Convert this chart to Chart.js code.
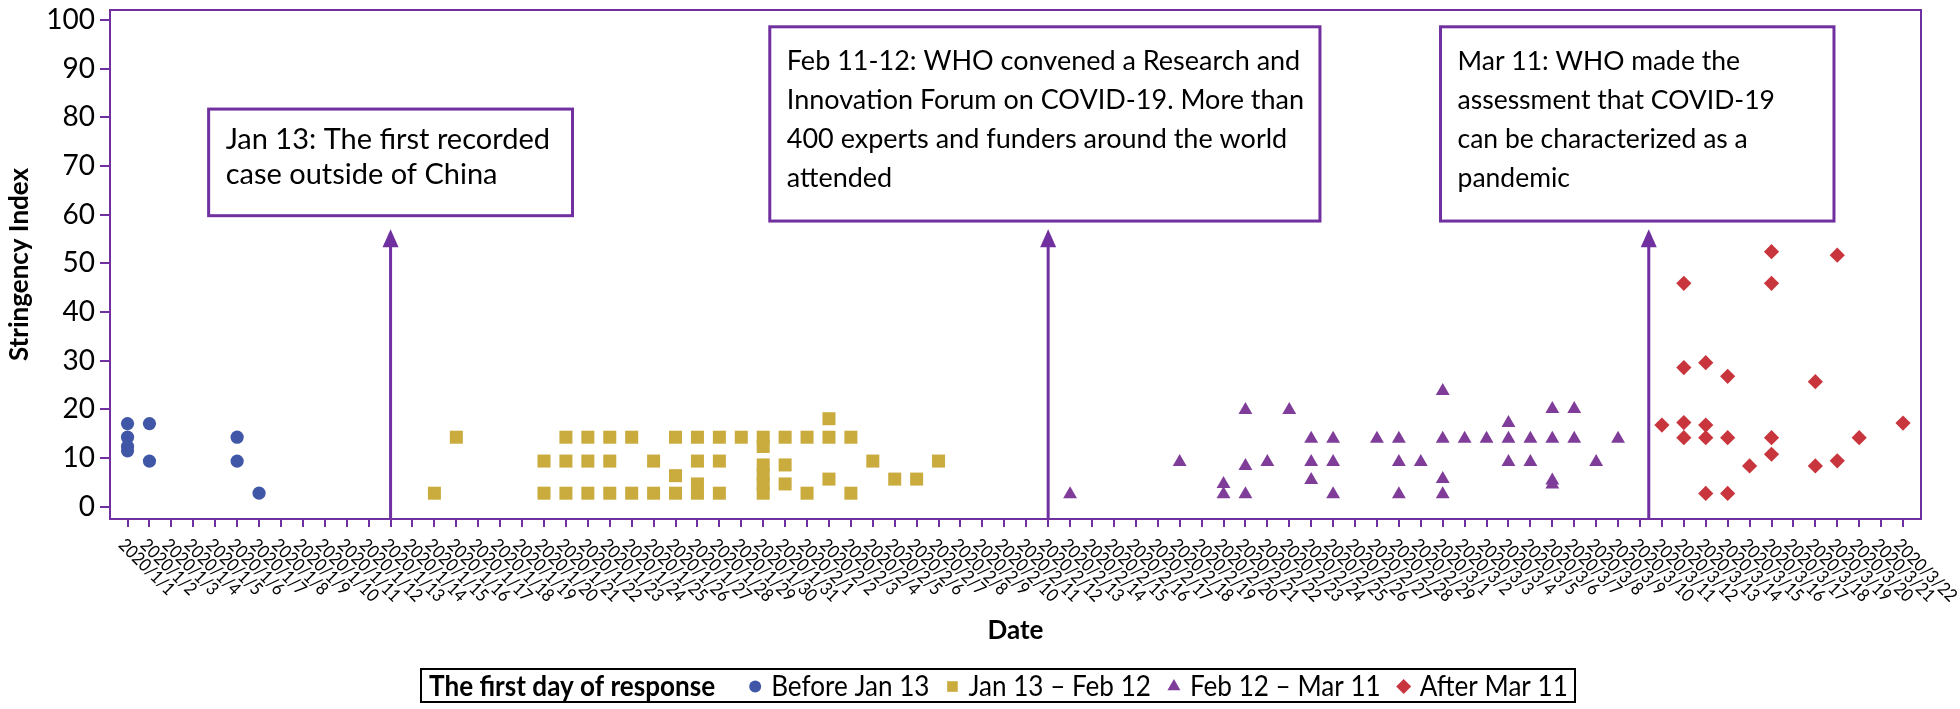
<!DOCTYPE html>
<html><head><meta charset="utf-8">
<script src="https://cdn.jsdelivr.net/npm/chart.js@4/dist/chart.umd.min.js"></script>
<style>html,body{margin:0;padding:0;background:#fff}#wrap{width:1960px;height:709px}</style>
</head><body><div id="wrap"><canvas id="c" width="1960" height="709"></canvas></div>
<script>
// ---------- categories / tick labels ----------
const dateLabels = [
 '2020/1/1','2020/1/2','2020/1/3','2020/1/4','2020/1/5','2020/1/6','2020/1/7','2020/1/8','2020/1/9','2020/1/10',
 '2020/1/11','2020/1/12','2020/1/13','2020/1/14','2020/1/15','2020/1/16','2020/1/17','2020/1/18','2020/1/19','2020/1/20',
 '2020/1/21','2020/1/22','2020/1/23','2020/1/24','2020/1/25','2020/1/26','2020/1/27','2020/1/28','2020/1/29','2020/1/30','2020/1/31',
 '2020/2/1','2020/2/2','2020/2/3','2020/2/4','2020/2/5','2020/2/6','2020/2/7','2020/2/8','2020/2/9','2020/2/10',
 '2020/2/11','2020/2/12','2020/2/13','2020/2/14','2020/2/15','2020/2/16','2020/2/17','2020/2/18','2020/2/19','2020/2/20',
 '2020/2/21','2020/2/22','2020/2/23','2020/2/24','2020/2/25','2020/2/26','2020/2/27','2020/2/28','2020/2/29',
 '2020/3/1','2020/3/2','2020/3/3','2020/3/4','2020/3/5','2020/3/6','2020/3/7','2020/3/8','2020/3/9','2020/3/10',
 '2020/3/11','2020/3/12','2020/3/13','2020/3/14','2020/3/15','2020/3/16','2020/3/17','2020/3/18','2020/3/19','2020/3/20',
 '2020/3/21','2020/3/22'
];
const yTickValues = [0,10,20,30,40,50,60,70,80,90,100];

// ---------- series ----------
const beforeJan13Dates  = ['2020/1/1','2020/1/1','2020/1/1','2020/1/1','2020/1/2','2020/1/2','2020/1/6','2020/1/6','2020/1/7'];
const beforeJan13Values = [17.1,14.3,12.4,11.5,17.1,9.4,14.3,9.4,2.8];

const jan13Feb12Dates = [
 '2020/1/15','2020/1/16',
 '2020/1/20','2020/1/20',
 '2020/1/21','2020/1/21','2020/1/21',
 '2020/1/22','2020/1/22','2020/1/22',
 '2020/1/23','2020/1/23','2020/1/23',
 '2020/1/24','2020/1/24',
 '2020/1/25','2020/1/25',
 '2020/1/26','2020/1/26','2020/1/26',
 '2020/1/27','2020/1/27','2020/1/27','2020/1/27',
 '2020/1/28','2020/1/28','2020/1/28',
 '2020/1/29',
 '2020/1/30','2020/1/30','2020/1/30','2020/1/30','2020/1/30','2020/1/30',
 '2020/1/31','2020/1/31','2020/1/31',
 '2020/2/1','2020/2/1',
 '2020/2/2','2020/2/2','2020/2/2',
 '2020/2/3','2020/2/3',
 '2020/2/4','2020/2/5','2020/2/6','2020/2/7'
];
const jan13Feb12Values = [
 2.8,14.3,
 9.4,2.8,
 14.3,9.4,2.8,
 14.3,9.4,2.8,
 14.3,9.4,2.8,
 14.3,2.8,
 9.4,2.8,
 14.3,6.4,2.8,
 14.3,9.4,4.7,2.8,
 14.3,9.4,2.8,
 14.3,
 14.3,12.4,8.6,6.6,4.7,2.8,
 14.3,8.6,4.7,
 14.3,2.8,
 18.1,14.3,5.7,
 14.3,2.8,
 9.4,5.7,5.7,9.4
];

const feb12Mar11Dates = [
 '2020/2/13','2020/2/18',
 '2020/2/20','2020/2/20',
 '2020/2/21','2020/2/21','2020/2/21',
 '2020/2/22','2020/2/23',
 '2020/2/24','2020/2/24','2020/2/24',
 '2020/2/25','2020/2/25','2020/2/25',
 '2020/2/27',
 '2020/2/28','2020/2/28','2020/2/28',
 '2020/2/29',
 '2020/3/1','2020/3/1','2020/3/1','2020/3/1',
 '2020/3/2','2020/3/3',
 '2020/3/4','2020/3/4','2020/3/4',
 '2020/3/5','2020/3/5',
 '2020/3/6','2020/3/6','2020/3/6','2020/3/6',
 '2020/3/7','2020/3/7',
 '2020/3/8','2020/3/9'
];
const feb12Mar11Values = [
 2.6,9.2,
 4.7,2.6,
 19.9,8.4,2.6,
 9.2,19.9,
 14.0,9.2,5.5,
 14.0,9.2,2.6,
 14.0,
 14.0,9.2,2.6,
 9.2,
 23.8,14.0,5.7,2.6,
 14.0,14.0,
 17.2,14.0,9.2,
 14.0,9.2,
 20.1,14.0,5.4,4.6,
 20.1,14.0,
 9.2,14.0
];

const afterMar11Dates = [
 '2020/3/11',
 '2020/3/12','2020/3/12','2020/3/12','2020/3/12',
 '2020/3/13','2020/3/13','2020/3/13','2020/3/13',
 '2020/3/14','2020/3/14','2020/3/14',
 '2020/3/15',
 '2020/3/16','2020/3/16','2020/3/16','2020/3/16',
 '2020/3/18','2020/3/18',
 '2020/3/19','2020/3/19',
 '2020/3/20','2020/3/22'
];
const afterMar11Values = [
 16.8,
 45.9,28.6,17.3,14.2,
 29.6,16.8,14.2,2.75,
 26.8,14.2,2.75,
 8.4,
 52.4,45.9,14.2,10.8,
 25.7,8.4,
 51.7,9.45,
 14.2,17.2
];

const seriesLabels = ['Before Jan 13','Jan 13 \u2013 Feb 12','Feb 12 \u2013 Mar 11','After Mar 11'];
const legendTitle = 'The first day of response';

// annotation texts
const noteJan = ['Jan 13: The first recorded','case outside of China'];
const noteFeb = ['Feb 11-12: WHO convened a Research and','Innovation Forum on COVID-19. More than','400 experts and funders around the world','attended'];
const noteMar = ['Mar 11: WHO made the','assessment that COVID-19','can be characterized as a','pandemic'];

// ---------- styles ----------
const FRAME = '#7030A0';
const COLORS = ['#4057A7','#C9AB3E','#7F3C99','#C9353C'];
const STYLES = ['circle','rect','triangle','rectRot'];
const RADII = [6.6, 9.2, 8, 7.6];
const FONT = 'Lato';

const idx = d => dateLabels.indexOf(d);
const toPoints = (dates, vals) => dates.map((d,i) => ({x: idx(d), y: vals[i]}));
const allDates = [beforeJan13Dates, jan13Feb12Dates, feb12Mar11Dates, afterMar11Dates];
const allValues = [beforeJan13Values, jan13Feb12Values, feb12Mar11Values, afterMar11Values];

// annotation layout: arrow position on x scale, arrow tip value, box in scale units
const notes = [
  {lines: noteJan, arrowX: 12,   tip: 57, size: 29,   lineGap: 35, firstLine: 31, box: {x0: 3.7,  x1: 20.3, y0: 81.7, y1: 59.8}},
  {lines: noteFeb, arrowX: 42,   tip: 57, size: 27,   lineGap: 39, firstLine: 35, box: {x0: 29.3, x1: 54.4, y0: 98.6, y1: 58.7}},
  {lines: noteMar, arrowX: 69.4, tip: 57, size: 26.5, lineGap: 39, firstLine: 35, box: {x0: 59.9, x1: 77.85, y0: 98.6, y1: 58.7}}
];

function drawShape(ctx, style, x, y, r) {
  ctx.beginPath();
  if (style === 'circle') { ctx.arc(x, y, r, 0, Math.PI*2); }
  else if (style === 'rect') { const s = r*Math.SQRT1_2; ctx.rect(x-s, y-s, 2*s, 2*s); }
  else if (style === 'triangle') { ctx.moveTo(x, y-r); ctx.lineTo(x+r*0.866, y+r/2); ctx.lineTo(x-r*0.866, y+r/2); ctx.closePath(); }
  else { ctx.moveTo(x, y-r); ctx.lineTo(x+r, y); ctx.lineTo(x, y+r); ctx.lineTo(x-r, y); ctx.closePath(); }
  ctx.fill();
}

const framePlugin = {
  id: 'frame',
  afterDraw(chart) {
    const {ctx, chartArea: a} = chart;
    ctx.save();
    ctx.strokeStyle = FRAME; ctx.lineWidth = 2;
    ctx.strokeRect(a.left, a.top, a.right - a.left, a.bottom - a.top);
    ctx.restore();
  }
};

const xLabelPlugin = {
  id: 'xlabels',
  afterDraw(chart) {
    const {ctx, scales: {x}, chartArea: a} = chart;
    ctx.save();
    ctx.font = '18px ' + FONT; ctx.fillStyle = '#000';
    ctx.textAlign = 'left'; ctx.textBaseline = 'middle';
    dateLabels.forEach((lab, i) => {
      const px = x.getPixelForValue(i);
      ctx.save();
      ctx.translate(px - 6, a.bottom + 23);
      ctx.rotate(Math.PI/4);
      ctx.scale(0.9, 1);
      ctx.fillText(lab, 0, 0);
      ctx.restore();
    });
    ctx.restore();
  }
};

const notePlugin = {
  id: 'notes',
  afterDatasetsDraw(chart) {
    const {ctx, scales: {x, y}, chartArea: a} = chart;
    ctx.save();
    notes.forEach(n => {
      const ax = x.getPixelForValue(n.arrowX);
      const ty = y.getPixelForValue(n.tip);
      ctx.strokeStyle = FRAME; ctx.fillStyle = FRAME; ctx.lineWidth = 3;
      ctx.beginPath(); ctx.moveTo(ax, a.bottom); ctx.lineTo(ax, ty + 14); ctx.stroke();
      ctx.beginPath(); ctx.moveTo(ax, ty); ctx.lineTo(ax + 8, ty + 18); ctx.lineTo(ax - 8, ty + 18); ctx.closePath(); ctx.fill();
      const bx0 = x.getPixelForValue(n.box.x0), bx1 = x.getPixelForValue(n.box.x1);
      const by0 = y.getPixelForValue(n.box.y0), by1 = y.getPixelForValue(n.box.y1);
      ctx.fillStyle = '#fff';
      ctx.fillRect(bx0, by0, bx1 - bx0, by1 - by0);
      ctx.lineWidth = 3; ctx.strokeStyle = FRAME;
      ctx.strokeRect(bx0, by0, bx1 - bx0, by1 - by0);
      ctx.fillStyle = '#000'; ctx.font = n.size + 'px ' + FONT;
      ctx.textAlign = 'left'; ctx.textBaseline = 'middle';
      n.lines.forEach((t, k) => ctx.fillText(t, bx0 + 17, by0 + n.firstLine + k * n.lineGap));
    });
    ctx.restore();
  }
};

const legendPlugin = {
  id: 'customLegend',
  afterDraw(chart) {
    const {ctx} = chart;
    const top = 669, bottom = 702, left = 421, right = 1575;
    const cy = (top + bottom) / 2;
    ctx.save();
    ctx.strokeStyle = '#000'; ctx.lineWidth = 2;
    ctx.strokeRect(left, top, right - left, bottom - top);
    ctx.textBaseline = 'middle'; ctx.textAlign = 'left'; ctx.fillStyle = '#000';
    const sx = 0.9;
    ctx.font = 'bold 29px ' + FONT;
    let xpos = 429;
    ctx.save(); ctx.translate(xpos, cy + 1); ctx.scale(sx, 1); ctx.fillText(legendTitle, 0, 0); ctx.restore();
    xpos += ctx.measureText(legendTitle).width * sx + 40;
    ctx.font = '29px ' + FONT;
    chart.data.datasets.forEach((ds, i) => {
      ctx.fillStyle = COLORS[i];
      drawShape(ctx, STYLES[i], xpos, cy + 1, [6, 7.5, 7.5, 7.5][i]);
      xpos += 16;
      ctx.fillStyle = '#000';
      ctx.save(); ctx.translate(xpos, cy + 1); ctx.scale(sx, 1); ctx.fillText(ds.label, 0, 0); ctx.restore();
      xpos += ctx.measureText(ds.label).width * sx + 23;
    });
    ctx.restore();
  }
};

new Chart(document.getElementById('c').getContext('2d'), {
  type: 'scatter',
  data: {
    datasets: seriesLabels.map((lab, i) => ({
      label: lab,
      data: toPoints(allDates[i], allValues[i]),
      pointStyle: STYLES[i],
      pointRadius: RADII[i],
      pointHoverRadius: RADII[i],
      backgroundColor: COLORS[i],
      borderColor: COLORS[i],
      borderWidth: 0
    }))
  },
  options: {
    responsive: false, animation: false, devicePixelRatio: 1,
    layout: {padding: {top: 10, right: 39, bottom: 0, left: 0}},
    plugins: {legend: {display: false}, tooltip: {enabled: false}},
    scales: {
      x: {
        type: 'linear', min: -0.8, max: 81.82,
        afterBuildTicks: s => { s.ticks = dateLabels.map((_, i) => ({value: i})); },
        afterFit: s => { s.height = 190; s.paddingLeft = 0; s.paddingRight = 0; },
        grid: {drawOnChartArea: false, drawTicks: true, tickLength: 8, color: FRAME, lineWidth: 2},
        border: {display: true, color: FRAME, width: 2},
        ticks: {display: false},
        title: {display: true, text: 'Date', color: '#000', font: {family: FONT, weight: 'bold', size: 26}, padding: {top: 0, bottom: 63}}
      },
      y: {
        min: -2.5, max: 102.05,
        afterBuildTicks: s => { s.ticks = yTickValues.map(v => ({value: v})); },
        afterFit: s => { s.width = 110; s.paddingTop = 0; s.paddingBottom = 0; },
        grid: {drawOnChartArea: false, drawTicks: true, tickLength: 10, color: FRAME, lineWidth: 2},
        border: {display: true, color: FRAME, width: 2},
        ticks: {color: '#000', font: {family: FONT, size: 28}, padding: 5},
        title: {display: true, text: 'Stringency Index', color: '#000', font: {family: FONT, weight: 'bold', size: 26}, padding: {top: 4, bottom: 0}}
      }
    }
  },
  plugins: [framePlugin, xLabelPlugin, notePlugin, legendPlugin]
});
</script>
</body></html>
